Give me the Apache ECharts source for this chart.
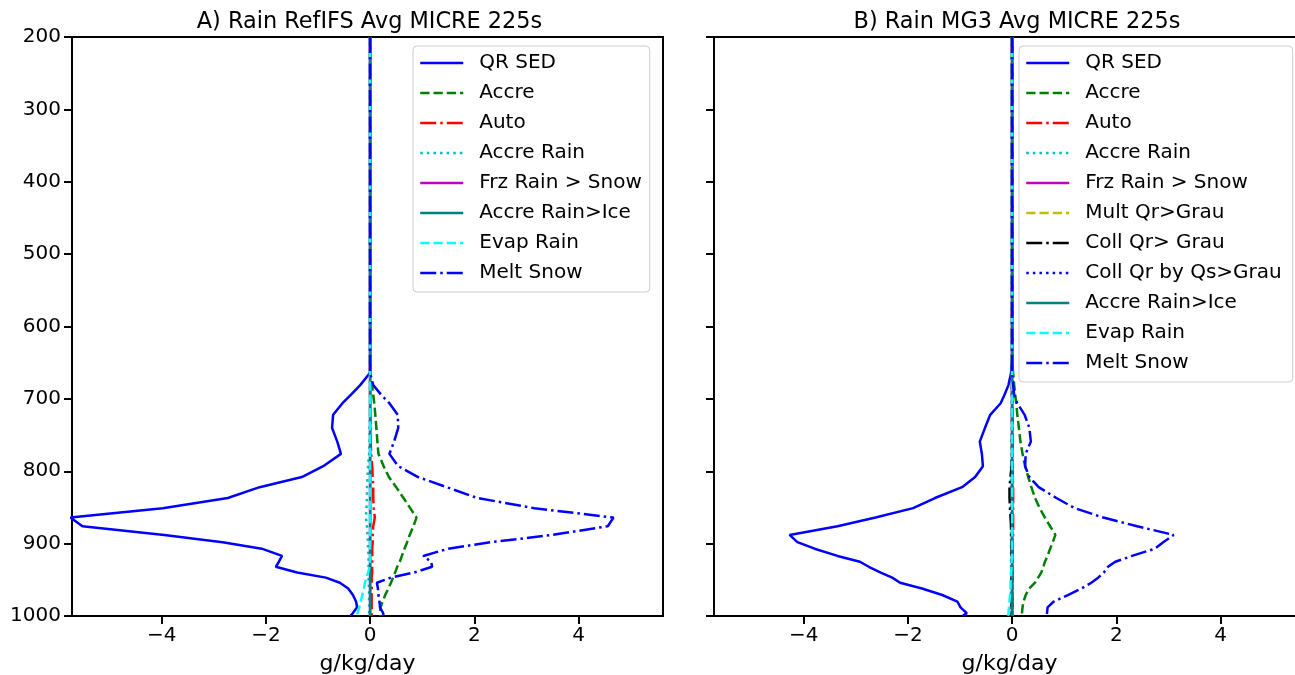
<!DOCTYPE html>
<html>
<head>
<meta charset="utf-8">
<script src="https://cdn.jsdelivr.net/npm/echarts@6/dist/echarts.min.js"></script>
<style>
html,body{margin:0;padding:0;background:#fff;}
#chart{width:1295px;height:675px;}
</style>
</head>
<body>
<div id="chart"></div>
<script>
// Pressure levels (hPa), shared by both panels
const levels = [200, 300, 400, 500, 600, 646, 664, 681, 695, 706, 722, 740, 759, 776, 793, 808, 822, 837, 851, 864, 876, 888, 898, 907, 917, 925, 932, 940, 947, 954, 962, 971, 980, 988, 996, 1000];
const xTicks = [-4, -2, 0, 2, 4];
const titleA = 'A) Rain RefIFS Avg MICRE 225s';
const titleB = 'B) Rain MG3 Avg MICRE 225s';
const xName = 'g/kg/day';

// Panel A (RefIFS) values, g/kg/day
const A_qrSed    = [0, 0, 0, 0, 0, 0, 0, -0.19, -0.38, -0.53, -0.71, -0.73, -0.63, -0.56, -0.90, -1.31, -2.12, -2.73, -3.98, -5.75, -5.52, -3.95, -2.83, -2.08, -1.69, -1.75, -1.81, -1.40, -0.85, -0.58, -0.42, -0.33, -0.27, -0.25, -0.33, -0.38];
const A_accre    = [0, 0, 0, 0, 0, 0, 0, 0.04, 0.06, 0.08, 0.10, 0.12, 0.14, 0.16, 0.26, 0.36, 0.50, 0.64, 0.77, 0.89, 0.83, 0.76, 0.71, 0.66, 0.61, 0.57, 0.52, 0.48, 0.44, 0.40, 0.35, 0.29, 0.24, 0.20, 0.19, 0.20];
const A_auto     = [0, 0, 0, 0, 0, 0, 0, 0, 0, 0, 0, 0.01, 0.01, 0.02, 0.04, 0.05, 0.06, 0.06, 0.07, 0.09, 0.06, 0.05, 0.05, 0.04, 0.04, 0.04, 0.04, 0.04, 0.03, 0.03, 0.03, 0.03, 0.03, 0.03, 0.03, 0.03];
const A_accreRain= [0, 0, 0, 0, 0, 0, 0, 0, 0, 0, 0, -0.01, -0.01, -0.02, -0.04, -0.05, -0.06, -0.06, -0.07, -0.08, -0.06, -0.05, -0.04, -0.04, -0.03, -0.03, -0.03, -0.03, -0.03, -0.03, -0.02, -0.02, -0.02, -0.02, -0.02, -0.02];
const A_frz      = [0, 0, 0, 0, 0, 0, 0, 0, 0, 0, 0, 0, 0, 0, 0, 0, 0, 0, 0, 0, 0, 0, 0, 0, 0, 0, 0, 0, 0, 0, 0, 0, 0, 0, 0, 0];
const A_accreIce = [0, 0, 0, 0, 0, 0, 0, 0, 0, 0, 0, 0, 0, 0, 0, 0, 0, 0, 0, 0, 0, 0, 0, 0, 0, 0, 0, 0, 0, 0, 0, 0, 0, 0, 0, 0];
const A_evap     = [0, 0, 0, 0, 0, 0, 0, 0, 0, 0, 0, 0, 0, 0, 0, 0, 0, 0, 0, 0, 0, 0, 0, 0, 0, 0, -0.01, -0.04, -0.07, -0.10, -0.12, -0.15, -0.18, -0.21, -0.24, -0.26];
const A_melt     = [0, 0, 0, 0, 0, 0, 0, 0.06, 0.22, 0.37, 0.53, 0.54, 0.46, 0.37, 0.54, 0.92, 1.47, 2.06, 3.15, 4.67, 4.56, 3.50, 2.31, 1.50, 1.02, 1.17, 1.19, 0.84, 0.40, 0.13, 0.15, 0.16, 0.18, 0.19, 0.25, 0.26];

// Panel B (MG3) values, g/kg/day
const B_qrSed    = [0, 0, 0, 0, 0, 0, -0.02, -0.07, -0.15, -0.22, -0.42, -0.52, -0.62, -0.58, -0.56, -0.71, -0.96, -1.48, -1.90, -2.62, -3.35, -4.27, -4.12, -3.79, -3.35, -2.92, -2.75, -2.52, -2.30, -2.15, -1.73, -1.34, -1.05, -0.99, -0.87, -0.95];
const B_accre    = [0, 0, 0, 0, 0, 0, 0.02, 0.04, 0.06, 0.08, 0.10, 0.13, 0.16, 0.20, 0.25, 0.31, 0.37, 0.44, 0.53, 0.63, 0.73, 0.83, 0.78, 0.73, 0.68, 0.63, 0.60, 0.56, 0.50, 0.44, 0.33, 0.26, 0.22, 0.20, 0.19, 0.19];
const B_auto     = [0, 0, 0, 0, 0, 0, 0, 0, 0, 0, 0, 0, 0, 0, 0.01, 0.01, 0.02, 0.02, 0.02, 0.02, 0.02, 0.02, 0.01, 0.01, 0.01, 0.01, 0.01, 0.01, 0.01, 0.01, 0.01, 0.01, 0.01, 0.01, 0.01, 0.01];
const B_accreRain= [0, 0, 0, 0, 0, 0, 0, 0, 0, 0, 0, 0, -0.01, -0.01, -0.02, -0.02, -0.02, -0.02, -0.02, -0.02, -0.02, -0.02, -0.02, -0.02, -0.02, -0.02, -0.02, -0.02, -0.02, -0.02, -0.02, -0.02, -0.02, -0.02, -0.02, -0.02];
const B_frz      = [0, 0, 0, 0, 0, 0, 0, 0, 0, 0, 0, 0, 0, 0, 0, 0, 0, 0, 0, 0, 0, 0, 0, 0, 0, 0, 0, 0, 0, 0, 0, 0, 0, 0, 0, 0];
const B_mult     = [0, 0, 0, 0, 0, 0, 0, 0, 0, 0, 0, 0, 0, 0, 0, 0, 0, 0, 0, 0, 0, 0, 0, 0, 0, 0, 0, 0, 0, 0, 0, 0, 0, 0, 0, 0];
const B_collQr   = [0, 0, 0, 0, 0, 0, 0, 0, 0, 0, 0, 0, 0, 0, -0.01, -0.03, -0.05, -0.05, -0.04, -0.03, -0.02, -0.02, -0.01, -0.01, -0.01, -0.01, -0.01, -0.01, -0.01, -0.01, -0.01, -0.01, -0.01, -0.01, -0.01, -0.01];
const B_collQs   = [0, 0, 0, 0, 0, 0, 0, 0, 0, 0, 0, 0, 0, 0, 0, 0, 0, 0, 0, 0, 0, 0, 0, 0, 0, 0, 0, 0, 0, 0, 0, 0, 0, 0, 0, 0];
const B_accreIce = [0, 0, 0, 0, 0, 0, 0, 0, 0, 0, 0, 0, 0, 0, 0, 0, 0, 0, 0, 0, 0, 0, 0, 0, 0, 0, 0, 0, 0, 0, 0, 0, 0, 0, 0, 0];
const B_evap     = [0, 0, 0, 0, 0, 0, 0, 0, 0, 0, 0, 0, 0, 0, 0, 0, 0, 0, 0, 0, 0, 0, 0, 0, 0, -0.01, -0.01, -0.02, -0.02, -0.03, -0.03, -0.04, -0.05, -0.06, -0.07, -0.08];
const B_melt     = [0, 0, 0, 0, 0, 0, 0, 0.02, 0.04, 0.10, 0.24, 0.33, 0.36, 0.26, 0.25, 0.33, 0.51, 0.85, 1.20, 1.75, 2.40, 3.10, 2.90, 2.74, 2.30, 1.98, 1.84, 1.76, 1.65, 1.52, 1.33, 1.07, 0.80, 0.68, 0.67, 0.66];

const FONT = 'DejaVu Sans';
const LW = 2.5;
const DASH = [9.25, 4];
const DASHDOT = [16, 4, 2.5, 4];
const DOT = [2.5, 4.1];

const styles = {
  'QR SED':            {color: '#0000ff', type: 'solid'},
  'Accre':             {color: '#008000', type: DASH},
  'Auto':              {color: '#ff0000', type: DASHDOT},
  'Accre Rain':        {color: '#00bfbf', type: DOT},
  'Frz Rain > Snow':   {color: '#bf00bf', type: 'solid'},
  'Mult Qr>Grau':      {color: '#bfbf00', type: DASH},
  'Coll Qr> Grau':     {color: '#000000', type: DASHDOT},
  'Coll Qr by Qs>Grau':{color: '#0000ff', type: DOT},
  'Accre Rain>Ice':    {color: '#008080', type: 'solid'},
  'Evap Rain':         {color: '#00ffff', type: DASH},
  'Melt Snow':         {color: '#0000ff', type: DASHDOT}
};

const panelA = [
  ['QR SED', A_qrSed], ['Accre', A_accre], ['Auto', A_auto], ['Accre Rain', A_accreRain],
  ['Frz Rain > Snow', A_frz], ['Accre Rain>Ice', A_accreIce], ['Evap Rain', A_evap], ['Melt Snow', A_melt]
];
const panelB = [
  ['QR SED', B_qrSed], ['Accre', B_accre], ['Auto', B_auto], ['Accre Rain', B_accreRain],
  ['Frz Rain > Snow', B_frz], ['Mult Qr>Grau', B_mult], ['Coll Qr> Grau', B_collQr],
  ['Coll Qr by Qs>Grau', B_collQs], ['Accre Rain>Ice', B_accreIce], ['Evap Rain', B_evap], ['Melt Snow', B_melt]
];

function mkSeries(list, gi) {
  return list.map(([name, vals]) => ({
    name: name,
    type: 'line',
    xAxisIndex: gi,
    yAxisIndex: gi,
    symbol: 'none',
    clip: true,
    silent: true,
    data: levels.map((p, i) => [vals[i], p]),
    lineStyle: {color: styles[name].color, width: LW, type: styles[name].type, cap: 'butt'},
    itemStyle: {color: styles[name].color}
  }));
}

const GRID_TOP = 37, GRID_H = 579, GRID_W = 591;
const gridLefts = [72, 714];

function xAxisFor(gi) {
  return {
    type: 'value', gridIndex: gi, min: -5.72, max: 5.62,
    splitLine: {show: false},
    axisLine: {show: true, onZero: false, lineStyle: {color: '#000', width: 2}},
    axisTick: {show: true, length: 8, lineStyle: {color: '#000', width: 2}, customValues: xTicks},
    axisLabel: {show: true, fontFamily: FONT, fontSize: 20, color: '#000', margin: 10, customValues: xTicks,
      formatter: v => (v < 0 ? '\u2212' + Math.abs(v) : String(v))},
    name: xName, nameLocation: 'middle', nameGap: 37,
    nameTextStyle: {fontFamily: FONT, fontSize: 22, color: '#000'}
  };
}
function yAxisFor(gi, labels) {
  return {
    type: 'value', gridIndex: gi, inverse: true, min: 200, max: 1000, interval: 100,
    splitLine: {show: false},
    axisLine: {show: true, onZero: false, lineStyle: {color: '#000', width: 2}},
    axisTick: {show: true, length: 8, lineStyle: {color: '#000', width: 2}},
    axisLabel: {show: labels, fontFamily: FONT, fontSize: 20, color: '#000', margin: 11,
      formatter: v => String(v)}
  };
}
function legendFor(list, left, padRight) {
  return {
    orient: 'vertical', left: left, top: 46,
    data: list.map(d => d[0]),
    selectedMode: false,
    padding: [7, padRight, 9, 6],
    itemWidth: 43, itemHeight: 20, itemGap: 10,
    textStyle: {fontFamily: FONT, fontSize: 20, color: '#000', padding: [0, 0, 0, 11]},
    lineStyle: {width: LW},
    itemStyle: {opacity: 0, color: 'rgba(0,0,0,0)', borderWidth: 0},
    borderColor: '#cccccc', borderWidth: 1, borderRadius: 4,
    backgroundColor: 'rgba(255,255,255,0.8)'
  };
}

const chart = echarts.init(document.getElementById('chart'), null, {renderer: 'canvas'});
chart.setOption({
  animation: false,
  backgroundColor: '#fff',
  textStyle: {fontFamily: FONT},
  title: [
    {text: titleA, left: gridLefts[0] + 591 / 2 - 3, textAlign: 'center', top: 6,
     textStyle: {fontFamily: FONT, fontSize: 22.4, fontWeight: 'normal', color: '#000'}},
    {text: titleB, left: gridLefts[1] + 298, textAlign: 'center', top: 6,
     textStyle: {fontFamily: FONT, fontSize: 22.4, fontWeight: 'normal', color: '#000'}}
  ],
  grid: gridLefts.map(l => ({left: l, top: GRID_TOP, width: GRID_W, height: GRID_H,
    outerBoundsMode: 'none', containLabel: false,
    show: true, borderColor: '#000', borderWidth: 2, backgroundColor: 'transparent'})),
  xAxis: [xAxisFor(0), xAxisFor(1)],
  yAxis: [yAxisFor(0, true), yAxisFor(1, false)],
  legend: [legendFor(panelA, 413, 8), legendFor(panelB, 1019, 11)],
  series: mkSeries(panelA, 0).concat(mkSeries(panelB, 1))
});
</script>
</body>
</html>
